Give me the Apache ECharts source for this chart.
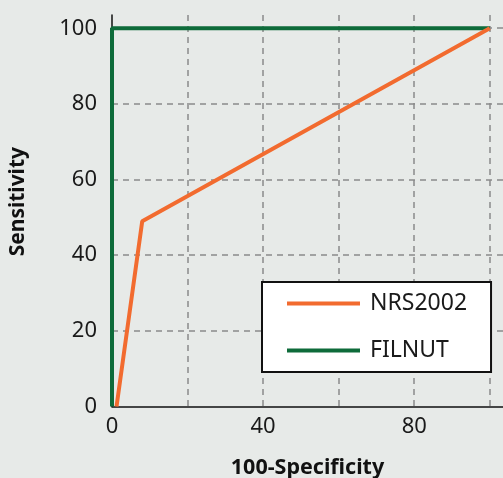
<!DOCTYPE html>
<html><head><meta charset="utf-8">
<script src="https://cdn.jsdelivr.net/npm/echarts@6/dist/echarts.min.js"></script>
<style>html,body{margin:0;padding:0;background:#e7eae8;}#c{width:503px;height:478px;}</style>
</head><body><div id="c"></div>
<script>
var seriesNames = ['NRS2002', 'FILNUT'];
var nrsX = [1.2, 8, 100];
var nrsY = [0, 49, 100];
var filX = [0, 0, 100];
var filY = [0, 100, 100];
var xTickLabels = [0, 40, 80];
var yTickLabels = [0, 20, 40, 60, 80, 100];

function pairs(xs, ys) { return xs.map(function (x, i) { return [x, ys[i]]; }); }

var FONT = '"Noto Sans", sans-serif';
var chart = echarts.init(document.getElementById('c'));
chart.setOption({
  backgroundColor: '#e7eae8',
  animation: false,
  grid: { left: 112, right: 0, top: 15, bottom: 71.5, containLabel: false, outerBoundsMode: 'none' },
  xAxis: {
    type: 'value', min: 0, max: 103.5, interval: 20,
    axisLine: { lineStyle: { color: '#111', width: 1.5 } },
    axisTick: { show: false },
    axisLabel: {
      showMaxLabel: false, margin: 9, color: '#1a1a1a', fontSize: 22, fontFamily: FONT,
      formatter: function (v) { return xTickLabels.indexOf(v) >= 0 ? String(v) : ''; }
    },
    splitLine: { show: true, showMinLine: false, showMaxLine: false, lineStyle: { color: '#8a8a8a', type: [6, 5], width: 1.5 } },
    name: '100-Specificity', nameLocation: 'middle', nameGap: 50,
    nameTextStyle: { color: '#111', fontSize: 21.5, fontWeight: 'bold', fontFamily: FONT }
  },
  yAxis: {
    type: 'value', min: 0, max: 103.5, interval: 20,
    axisLine: { show: true, lineStyle: { color: '#111', width: 1.5 } },
    axisTick: { show: false },
    axisLabel: {
      showMaxLabel: false, margin: 15, color: '#1a1a1a', fontSize: 22, fontFamily: FONT,
      formatter: function (v) { return yTickLabels.indexOf(v) >= 0 ? String(v) : ''; }
    },
    splitLine: { show: true, showMinLine: false, showMaxLine: false, lineStyle: { color: '#8a8a8a', type: [6, 5], width: 1.5 } }
  },
  graphic: [{
    type: 'text', left: 8, top: 147, rotation: Math.PI / 2,
    style: { text: 'Sensitivity', fill: '#111', font: 'bold 21px "Noto Sans", sans-serif' }
  }],
  legend: {
    orient: 'vertical', left: 262, top: 282,
    data: seriesNames,
    icon: 'rect',
    itemWidth: 73, itemHeight: 4, itemGap: 24,
    padding: [10, 24, 10, 25],
    backgroundColor: '#ffffff', borderColor: '#111', borderWidth: 2,
    textStyle: { color: '#1a1a1a', fontSize: 23, fontFamily: FONT, padding: [0, 0, 0, 5] }
  },
  series: [
    { name: seriesNames[0], type: 'line', data: pairs(nrsX, nrsY), symbol: 'none', z: 3,
      lineStyle: { color: '#f26b2f', width: 4 }, itemStyle: { color: '#f26b2f' } },
    { name: seriesNames[1], type: 'line', data: pairs(filX, filY), symbol: 'none', z: 2,
      lineStyle: { color: '#0e6b3a', width: 4 }, itemStyle: { color: '#0e6b3a' } }
  ]
});
</script></body></html>
